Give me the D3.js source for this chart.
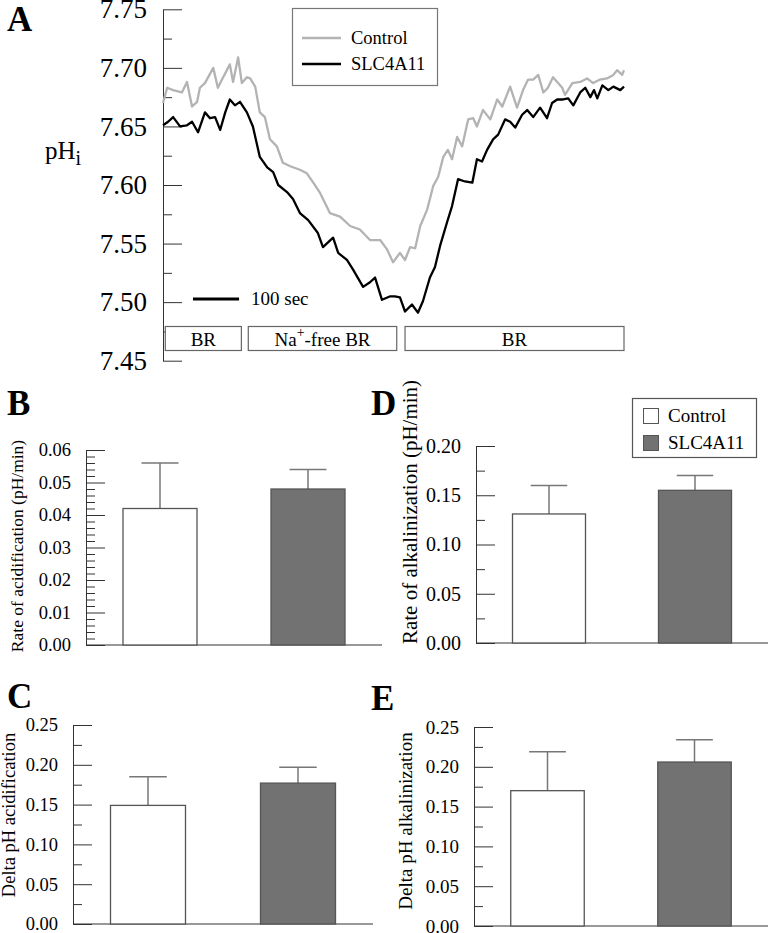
<!DOCTYPE html>
<html>
<head>
<meta charset="utf-8">
<script src="https://cdn.jsdelivr.net/npm/d3@7"></script>
<style>
  html, body { margin: 0; padding: 0; background: #fff; }
  svg { display: block; }
  svg text { font-family: "Liberation Serif", "Times New Roman", serif !important; }
</style>
</head>
<body>
<svg id="chart" width="773" height="933"></svg>
<script>
// ---------------- DATA ----------------
// Panel A: intracellular pH traces (time in seconds)
const ctrlTime = [0,9,22,41,52,63,74,80,91,109,119,128,145,152,163,171,182,189,200,210,221,232,247,260,276,297,312,326,341,362,384,406,427,449,471,486,499,514,525,536,547,558,573,586,597,608,618,627,638,649,662,673,681,694,710,725,736,753,768,781,792,803,814,825,835,846,857,866,872,888,905,920,933,948,963,977,985,996,1000];
const ctrlPh = [7.670,7.683,7.681,7.679,7.688,7.667,7.671,7.683,7.687,7.700,7.683,7.690,7.703,7.688,7.709,7.687,7.692,7.691,7.684,7.662,7.658,7.639,7.633,7.619,7.616,7.613,7.610,7.602,7.593,7.576,7.573,7.565,7.562,7.553,7.553,7.545,7.534,7.542,7.536,7.547,7.546,7.565,7.579,7.599,7.607,7.624,7.630,7.622,7.641,7.633,7.656,7.657,7.650,7.664,7.656,7.673,7.667,7.684,7.666,7.681,7.690,7.690,7.694,7.679,7.683,7.692,7.687,7.683,7.677,7.687,7.688,7.691,7.687,7.690,7.691,7.694,7.698,7.694,7.698];
const slcTime = [0,11,22,37,52,63,76,91,102,113,124,135,145,156,167,182,195,210,226,239,250,269,282,297,315,336,347,369,380,399,412,434,449,460,475,493,503,514,525,540,553,564,579,590,601,616,627,640,655,671,681,692,703,716,727,742,753,764,779,790,803,818,833,844,855,868,879,890,905,916,927,935,942,953,966,977,992,1000];
const slcPh = [7.651,7.654,7.658,7.650,7.651,7.654,7.645,7.662,7.657,7.658,7.647,7.662,7.673,7.668,7.671,7.662,7.650,7.624,7.615,7.611,7.600,7.594,7.588,7.576,7.570,7.559,7.547,7.555,7.542,7.536,7.528,7.513,7.517,7.521,7.502,7.505,7.505,7.504,7.492,7.498,7.491,7.501,7.521,7.530,7.548,7.568,7.582,7.605,7.603,7.602,7.622,7.620,7.630,7.639,7.643,7.656,7.654,7.649,7.660,7.664,7.658,7.666,7.657,7.670,7.673,7.673,7.674,7.668,7.679,7.683,7.675,7.681,7.674,7.685,7.681,7.684,7.681,7.684];
const phTicks = [7.45,7.50,7.55,7.60,7.65,7.70,7.75];
const solutionLabels = ["BR", "Na+-free BR", "BR"];
const solutionStart = [5, 185, 525];   // seconds
const solutionEnd = [170, 507, 1000];
const scaleBarSec = 100;

// Bar panels
const groups = ["Control", "SLC4A11"];
const acidRate = [0.042, 0.048];
const acidRateSem = [0.014, 0.006];
const alkRate = [0.131, 0.155];
const alkRateSem = [0.029, 0.015];
const acidDelta = [0.149, 0.177];
const acidDeltaSem = [0.036, 0.020];
const alkDelta = [0.170, 0.206];
const alkDeltaSem = [0.049, 0.028];

// ---------------- DRAW ----------------
const svg = d3.select("#chart");
const seriesColor = { "Control": "#b3b3b3", "SLC4A11": "#000000" };
const barFill = { "Control": "#ffffff", "SLC4A11": "#727272" };
const axisColor = "#333";

function panelLetter(txt, x, y) {
  svg.append("text").attr("x", x).attr("y", y)
    .attr("font-size", 35).attr("font-weight", "bold").attr("fill", "#000").text(txt);
}
function cleanAxis(a) {
  a.attr("font-family", null).attr("font-size", null);
}

// ---- Panel A ----
(function () {
  const x = d3.scaleLinear().domain([0, 1000]).range([163, 624]);
  const y = d3.scaleLinear().domain([7.45, 7.75]).range([360.7, 9.3]);
  const g = svg.append("g");

  const minor = d3.range(7.475, 7.75, 0.05);
  g.append("g").attr("transform", "translate(163,0)")
    .call(d3.axisLeft(y).tickValues(minor).tickSizeInner(-9).tickSizeOuter(0).tickFormat(""))
    .call(a => a.select(".domain").remove())
    .call(a => a.selectAll("line").attr("stroke", axisColor));
  g.append("g").attr("transform", "translate(163,0)")
    .call(d3.axisLeft(y).tickValues(phTicks).tickSizeInner(-19).tickSizeOuter(0).tickPadding(16).tickFormat(d3.format(".2f")))
    .call(cleanAxis)
    .call(a => a.select(".domain").attr("stroke", axisColor))
    .call(a => a.selectAll("line").attr("stroke", axisColor))
    .call(a => a.selectAll("text").attr("font-size", 27).attr("fill", "#000"));

  const t = g.append("text").attr("x", 45).attr("y", 159).attr("font-size", 25).attr("fill", "#000");
  t.append("tspan").text("pH");
  t.append("tspan").attr("dy", 6).attr("font-size", 20).text("i");

  const line = d3.line().x(d => x(d[0])).y(d => y(d[1]));
  g.append("path").datum(d3.zip(ctrlTime, ctrlPh)).attr("d", line)
    .attr("fill", "none").attr("stroke", seriesColor["Control"]).attr("stroke-width", 2.3).attr("stroke-linejoin", "round");
  g.append("path").datum(d3.zip(slcTime, slcPh)).attr("d", line)
    .attr("fill", "none").attr("stroke", seriesColor["SLC4A11"]).attr("stroke-width", 2.3).attr("stroke-linejoin", "round");

  g.append("line").attr("x1", x(65)).attr("x2", x(65 + scaleBarSec)).attr("y1", 299).attr("y2", 299)
    .attr("stroke", "#000").attr("stroke-width", 3);
  g.append("text").attr("x", 251).attr("y", 305).attr("font-size", 19).text(scaleBarSec + " sec");

  solutionLabels.forEach((lab, i) => {
    const x0 = x(solutionStart[i]), x1 = x(solutionEnd[i]);
    g.append("rect").attr("x", x0).attr("y", 326.5).attr("width", x1 - x0).attr("height", 24)
      .attr("fill", "#fff").attr("stroke", "#666").attr("stroke-width", 1.2);
    const tt = g.append("text").attr("x", (x0 + x1) / 2).attr("y", 346).attr("text-anchor", "middle").attr("font-size", 19);
    if (lab.startsWith("Na+")) {
      tt.append("tspan").text("Na");
      tt.append("tspan").attr("dy", -9).attr("font-size", 14).text("+");
      tt.append("tspan").attr("dy", 9).text(lab.slice(3));
    } else tt.text(lab);
  });

  const lg = g.append("g");
  lg.append("rect").attr("x", 292.5).attr("y", 8.5).attr("width", 145).attr("height", 77)
    .attr("fill", "#fff").attr("stroke", "#777").attr("stroke-width", 1.2);
  groups.forEach((s, i) => {
    const yy = 38 + i * 26;
    lg.append("line").attr("x1", 302).attr("x2", 341).attr("y1", yy).attr("y2", yy)
      .attr("stroke", seriesColor[s]).attr("stroke-width", 2.3);
    lg.append("text").attr("x", 351).attr("y", yy + 6).attr("font-size", 18.5).text(s);
  });

  panelLetter("A", 7, 31);
})();

// ---- Bar panels ----
function barPanel(cfg) {
  const g = svg.append("g");
  const x = d3.scaleBand().domain(groups).range([cfg.ax, cfg.x1]).paddingInner(0.5).paddingOuter(0.25);
  const y = d3.scaleLinear().domain([0, cfg.max]).range([cfg.yBot, cfg.yTop]);

  const minor = d3.range(0, cfg.max + 1e-9, cfg.minor).filter(v => Math.abs(v / cfg.major - Math.round(v / cfg.major)) > 1e-6);
  g.append("g").attr("transform", `translate(${cfg.ax},0)`)
    .call(d3.axisLeft(y).tickValues(minor).tickSizeInner(-9).tickSizeOuter(0).tickFormat(""))
    .call(a => a.select(".domain").remove())
    .call(a => a.selectAll("line").attr("stroke", axisColor));
  const major = d3.range(0, cfg.max + 1e-9, cfg.major);
  g.append("g").attr("transform", `translate(${cfg.ax},0)`)
    .call(d3.axisLeft(y).tickValues(major).tickSizeInner(-19).tickSizeOuter(0).tickPadding(15).tickFormat(d3.format(".2f")))
    .call(cleanAxis)
    .call(a => a.select(".domain").attr("stroke", axisColor))
    .call(a => a.selectAll("line").attr("stroke", axisColor))
    .call(a => a.selectAll("text").attr("font-size", cfg.tickFont).attr("fill", "#000"));
  g.append("line").attr("x1", cfg.ax).attr("x2", cfg.x1).attr("y1", y(0)).attr("y2", y(0))
    .attr("stroke", axisColor).attr("stroke-width", 1);

  groups.forEach((s, i) => {
    const cx = x(s) + x.bandwidth() / 2;
    const top = y(cfg.values[i] + cfg.sem[i]);
    g.append("line").attr("x1", cx).attr("x2", cx).attr("y1", y(cfg.values[i])).attr("y2", top)
      .attr("stroke", "#777").attr("stroke-width", 1.5);
    g.append("line").attr("x1", cx - x.bandwidth() / 4).attr("x2", cx + x.bandwidth() / 4).attr("y1", top).attr("y2", top)
      .attr("stroke", "#777").attr("stroke-width", 1.5);
  });
  g.selectAll("rect.bar").data(groups).join("rect").attr("class", "bar")
    .attr("x", d => x(d)).attr("width", x.bandwidth())
    .attr("y", (d, i) => y(cfg.values[i])).attr("height", (d, i) => y(0) - y(cfg.values[i]))
    .attr("fill", d => barFill[d]).attr("stroke", "#555").attr("stroke-width", 1.3);

  g.append("text").attr("transform", `translate(${cfg.lx},${cfg.ly}) rotate(-90)`)
    .attr("text-anchor", "middle").attr("font-size", cfg.labelFont).attr("fill", "#000").text(cfg.label);

  panelLetter(cfg.letter, cfg.letterX, cfg.letterY);
  return g;
}

barPanel({ letter: "B", letterX: 7, letterY: 415, ax: 86, x1: 382, yTop: 450, yBot: 645, max: 0.06, major: 0.01, minor: 0.002,
  values: acidRate, sem: acidRateSem, label: "Rate of acidification (pH/min)", lx: 23, ly: 546, labelFont: 17.5, tickFont: 18.5 });
barPanel({ letter: "D", letterX: 371, letterY: 415, ax: 476, x1: 768, yTop: 446, yBot: 643, max: 0.20, major: 0.05, minor: 0.025,
  values: alkRate, sem: alkRateSem, label: "Rate of alkalinization (pH/min)", lx: 417, ly: 512, labelFont: 21, tickFont: 20 });
barPanel({ letter: "C", letterX: 7, letterY: 708, ax: 73, x1: 373, yTop: 725, yBot: 924, max: 0.25, major: 0.05, minor: 0.025,
  values: acidDelta, sem: acidDeltaSem, label: "Delta pH acidification", lx: 15, ly: 815, labelFont: 18.5, tickFont: 18.5 });
barPanel({ letter: "E", letterX: 371, letterY: 710, ax: 474, x1: 768, yTop: 727, yBot: 926, max: 0.25, major: 0.05, minor: 0.025,
  values: alkDelta, sem: alkDeltaSem, label: "Delta pH alkalinization", lx: 412, ly: 821, labelFont: 19, tickFont: 19 });

(function () {
  const lg = svg.append("g");
  lg.append("rect").attr("x", 632.5).attr("y", 398.5).attr("width", 124).attr("height", 59)
    .attr("fill", "#fff").attr("stroke", "#555").attr("stroke-width", 1.2);
  groups.forEach((s, i) => {
    const yy = 408 + i * 27;
    lg.append("rect").attr("x", 643.5).attr("y", yy + 0.5).attr("width", 15).attr("height", 15)
      .attr("fill", barFill[s]).attr("stroke", "#555").attr("stroke-width", 1);
    lg.append("text").attr("x", 668).attr("y", yy + 14).attr("font-size", 19).text(s);
  });
})();
</script>
</body>
</html>
